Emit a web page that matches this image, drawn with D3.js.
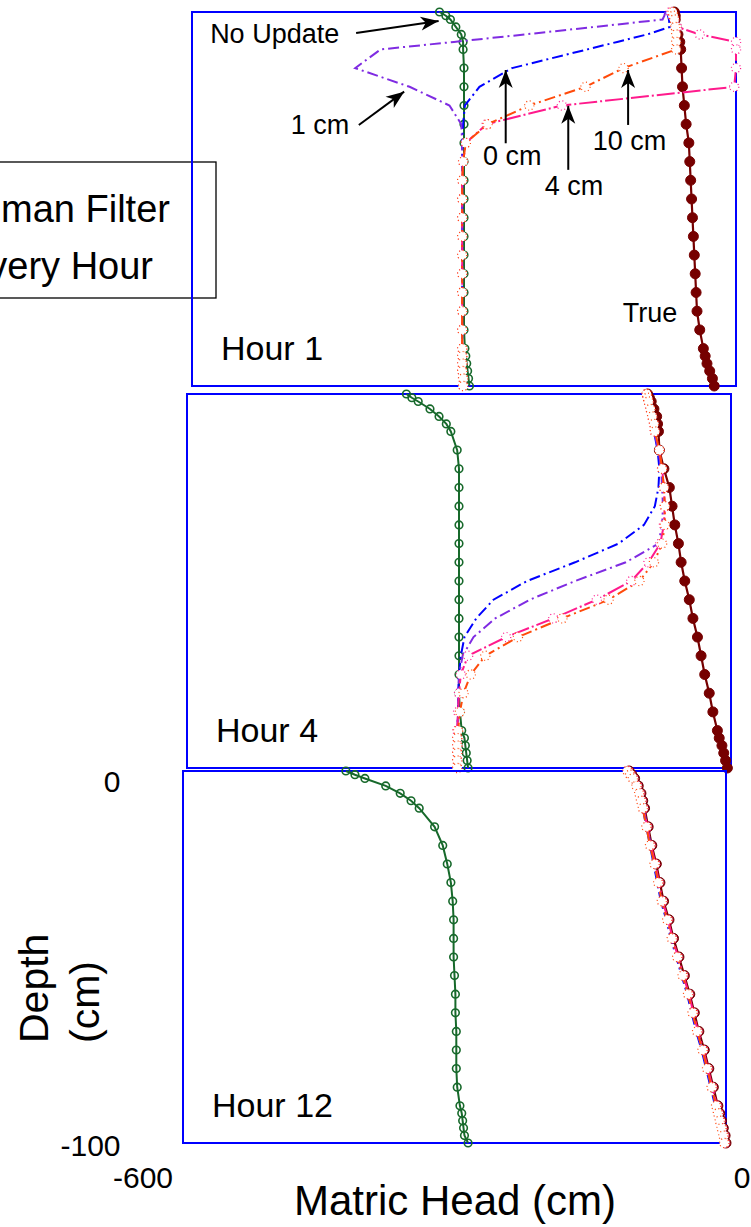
<!DOCTYPE html>
<html>
  <head>
    <meta charset="utf-8">
    <title>Matric head profiles - Kalman filter every hour</title>
    <script type="text/javascript" src="https://d3js.org/d3.v7.min.js"></script>
    <style type="text/css">
      body { margin: 0; background: #fff; }
      svg text { font-family: "Liberation Sans", Arial, sans-serif; fill: #000; }
    </style>
  </head>
  <body>
    <script type="text/javascript">
    // depth of the nodes (cm below surface)
    var depth = [0, 1, 2, 4, 6, 8, 10, 15, 20, 25, 30, 35, 40, 45, 50, 55, 60, 65, 70, 75, 80, 85, 90, 92, 94, 96, 98, 100];

    // Hour 1 - matric head (cm)
    var h1True     = [-68, -67, -67, -66, -64, -62, -61, -60, -59, -57, -55, -52, -51, -50, -49, -48, -47, -46, -45, -44, -43, -40, -36, -34, -32, -29, -26, -24];
    var h1NoUpdate = [-327, -320, -315, -309, -303, -301, -301, -300, -300, -300, -300, -300, -300, -300, -300, -300, -300, -300, -300, -300, -300, -300, -299, -298, -297, -296, -295, -294];
    var h1Cm0      = [-76, -75, -74, -73, -98, -131, -164, -247, -283, -299, -301, -302, -302, -302, -302, -302, -302, -302, -302, -302, -302, -302, -302, -302, -302, -302, -301, -301];
    var h1Cm1      = [-78, -79, -81, -156, -233, -311, -392, -420, -360, -316, -303, -302, -302, -302, -302, -302, -302, -302, -302, -302, -302, -302, -302, -302, -302, -302, -301, -301];
    var h1Cm4      = [-72, -70, -68, -65, -40, 0, 0, 0, -2, -192, -275, -298, -301, -302, -302, -302, -302, -302, -302, -302, -302, -302, -302, -302, -302, -302, -301, -301];
    var h1Cm10     = [-70, -69, -68, -67, -66, -66, -66, -124, -166, -228, -274, -298, -301, -302, -302, -302, -302, -302, -302, -302, -302, -302, -302, -302, -302, -302, -301, -301];

    // Hour 4
    var h4True     = [-92, -90, -88, -85, -82, -81, -80, -79, -74, -68, -65, -62, -58, -55, -51, -46, -42, -37, -33, -29, -24, -20, -15, -13, -10, -8, -6, -4];
    var h4NoUpdate = [-358, -352, -345, -332, -322, -314, -309, -302, -300, -300, -300, -300, -300, -300, -300, -300, -300, -300, -300, -300, -300, -299, -297, -294, -293, -292, -291, -290];
    var h4Cm0      = [-93, -92, -91, -89, -87, -86, -85, -81, -79, -80, -84, -96, -124, -172, -225, -262, -281, -294, -298, -300, -301, -301, -302, -302, -302, -302, -302, -302];
    var h4Cm1      = [-93, -92, -91, -89, -87, -86, -85, -80, -77, -76, -75, -76, -80, -116, -172, -222, -260, -284, -296, -300, -301, -301, -302, -302, -302, -302, -302, -302];
    var h4Cm4      = [-93, -92, -91, -89, -87, -85, -84, -79, -76, -74, -73, -74, -78, -91, -110, -148, -196, -248, -290, -298, -300, -301, -302, -302, -302, -302, -302, -302];
    var h4Cm10     = [-93, -92, -91, -89, -87, -85, -84, -79, -76, -74, -73, -73, -76, -85, -101, -135, -186, -235, -271, -287, -295, -299, -301, -302, -302, -302, -302, -302];

    // Hour 12
    var h12True     = [-107, -104, -101, -97, -94, -92, -90, -86, -82, -77, -73, -69, -63, -58, -52, -46, -40, -35, -30, -24, -19, -14, -9, -7, -5, -3, -1, 0];
    var h12NoUpdate = [-420, -410, -399, -376, -360, -348, -339, -322, -313, -308, -304, -302, -301, -301, -301, -300, -299, -299, -298, -298, -298, -297, -294, -292, -291, -290, -289, -285];
    var h12Cm0      = [-108, -105, -102, -98, -96, -94, -92, -88, -84, -80, -76, -72, -66, -61, -55, -49, -43, -38, -33, -27, -22, -17, -12, -10, -8, -6, -4, -3];
    var h12Cm1      = [-108, -105, -102, -98, -95, -93, -91, -87, -83, -79, -75, -71, -65, -60, -54, -48, -42, -37, -32, -26, -21, -16, -11, -9, -7, -5, -3, -2];
    var h12Cm4      = [-108, -105, -102, -98, -95, -93, -91, -87, -83, -78, -74, -70, -64, -59, -53, -47, -41, -36, -31, -25, -20, -15, -10, -8, -6, -4, -2, -1];
    var h12Cm10     = [-109, -106, -103, -99, -96, -94, -92, -88, -84, -79, -75, -71, -65, -60, -54, -48, -42, -37, -32, -26, -21, -16, -11, -9, -7, -5, -3, -2];

    var hourLabels = ["Hour 1", "Hour 4", "Hour 12"];
    var xTicks = [-600, 0];
    var yTicks = [0, -100];

    var widthSVG = 751;
    var heightSVG = 1227;

    var svg = d3.select("body")
                .append("svg")
                .attr("width", widthSVG)
                .attr("height", heightSVG);

    // arrow head used by the annotations
    svg.append("defs").append("marker")
       .attr("id", "head")
       .attr("markerUnits", "userSpaceOnUse")
       .attr("markerWidth", 20)
       .attr("markerHeight", 16)
       .attr("refX", 0)
       .attr("refY", 8)
       .attr("orient", "auto")
       .attr("viewBox", "-19 0 20 16")
       .append("path")
       .attr("d", "M0,8 L-18,1 L-13,8 L-18,15 Z")
       .attr("fill", "#000");

    // text box on the left, cut off by the page edge as in the figure
    svg.append("rect")
       .attr("x", -100).attr("y", 162)
       .attr("width", 316).attr("height", 136)
       .attr("fill", "none")
       .attr("stroke", "#000")
       .attr("stroke-width", 1.3);
    svg.append("text").attr("x", 58).attr("y", 222)
       .attr("text-anchor", "middle").style("font-size", "38px").text("Kalman Filter");
    svg.append("text").attr("x", 58).attr("y", 279)
       .attr("text-anchor", "middle").style("font-size", "38px").text("Every Hour");

    var styles = {
      truth:    {color: "#760000", width: 2.2, dash: null,       marker: "filled", r: 5},
      noUpdate: {color: "#17692b", width: 2,   dash: null,       marker: "open",   r: 3.8},
      cm0:      {color: "#0000ff", width: 2,   dash: "11,4,2,4", marker: null},
      cm1:      {color: "#7f2be2", width: 2,   dash: "11,4,2,4", marker: null},
      cm4:      {color: "#ff1a8c", width: 2,   dash: "18,3,2,3", marker: "white",  r: 4.6},
      cm10:     {color: "#ff4a0a", width: 2,   dash: "11,4,2,4", marker: "white",  r: 4.6}
    };

    // the three stacked panels (slightly shifted, as in the figure)
    var panels = [
      {x0: 192, x1: 736, y0: 12,  y1: 386,  label: hourLabels[0],
       data: {truth: h1True, noUpdate: h1NoUpdate, cm0: h1Cm0, cm1: h1Cm1, cm4: h1Cm4, cm10: h1Cm10}},
      {x0: 187, x1: 731, y0: 394, y1: 768,  label: hourLabels[1],
       data: {truth: h4True, noUpdate: h4NoUpdate, cm0: h4Cm0, cm1: h4Cm1, cm4: h4Cm4, cm10: h4Cm10}},
      {x0: 183, x1: 726, y0: 771, y1: 1143, label: hourLabels[2],
       data: {truth: h12True, noUpdate: h12NoUpdate, cm0: h12Cm0, cm1: h12Cm1, cm4: h12Cm4, cm10: h12Cm10}}
    ];

    panels.forEach(function(p) {
      var xScale = d3.scaleLinear().domain([-600, 0]).range([p.x0, p.x1]);
      var yScale = d3.scaleLinear().domain([0, -100]).range([p.y0, p.y1]);
      p.xScale = xScale;
      p.yScale = yScale;

      var g = svg.append("g");

      g.append("rect")
       .attr("x", xScale(-600)).attr("y", yScale(0))
       .attr("width", xScale(0) - xScale(-600))
       .attr("height", yScale(-100) - yScale(0))
       .attr("fill", "none")
       .attr("stroke", "#0000ff")
       .attr("stroke-width", 2);

      g.append("text")
       .attr("x", p.x0 + 29).attr("y", p.y1 - 26)
       .style("font-size", "34px")
       .text(p.label);

      function makeLine(vals) {
        return d3.line()
                 .x(function(d, i) { return xScale(vals[i]); })
                 .y(function(d) { return yScale(-d); })(depth);
      }

      function drawLine(key) {
        var s = styles[key];
        g.append("path")
         .attr("d", makeLine(p.data[key]))
         .attr("fill", "none")
         .attr("stroke", s.color)
         .attr("stroke-width", s.width)
         .attr("stroke-dasharray", s.dash);
      }

      function drawMarkers(key) {
        var s = styles[key];
        var vals = p.data[key];
        var dots = g.append("g").selectAll("circle")
                    .data(depth)
                    .enter()
                    .append("circle")
                    .attr("cx", function(d, i) { return xScale(vals[i]); })
                    .attr("cy", function(d) { return yScale(-d); })
                    .attr("r", s.r);
        if (s.marker == "filled") {
          dots.attr("fill", s.color).attr("stroke", s.color).attr("stroke-width", 1);
        } else if (s.marker == "open") {
          dots.attr("fill", "none").attr("stroke", s.color).attr("stroke-width", 1.6);
        } else {
          dots.attr("fill", "#fff").attr("stroke", s.color)
              .attr("stroke-width", 1.2).attr("stroke-dasharray", "1,2.6");
        }
      }

      drawLine("truth");
      drawMarkers("truth");
      drawLine("noUpdate");
      drawMarkers("noUpdate");
      drawLine("cm0");
      drawLine("cm1");
      drawLine("cm4");
      drawLine("cm10");
      drawMarkers("cm4");
      drawMarkers("cm10");
    });

    // annotations of the first panel, placed in its data units
    var p1 = panels[0];
    var notes = [
      {text: "No Update", h: -580,   z: 8.2},
      {text: "1 cm",      h: -491,   z: 32.6},
      {text: "0 cm",      h: -279,   z: 40.9},
      {text: "4 cm",      h: -211,   z: 48.9},
      {text: "10 cm",     h: -158,   z: 36.9},
      {text: "True",      h: -125,   z: 82.8}
    ];
    var arrows = [
      {h0: -419, z0: 5.6,  h1: -328, z1: 2.4},
      {h0: -416, z0: 30.2, h1: -366, z1: 21.3},
      {h0: -254, z0: 35.1, h1: -254, z1: 15.5},
      {h0: -185, z0: 42.2, h1: -185, z1: 25.1},
      {h0: -119, z0: 30.2, h1: -119, z1: 15.5}
    ];

    svg.selectAll("text.note")
       .data(notes)
       .enter()
       .append("text")
       .attr("class", "note")
       .attr("x", function(d) { return p1.xScale(d.h); })
       .attr("y", function(d) { return p1.yScale(-d.z); })
       .style("font-size", "27px")
       .text(function(d) { return d.text; });

    svg.selectAll("line.arrow")
       .data(arrows)
       .enter()
       .append("line")
       .attr("class", "arrow")
       .attr("x1", function(d) { return p1.xScale(d.h0); })
       .attr("y1", function(d) { return p1.yScale(-d.z0); })
       .attr("x2", function(d) { return p1.xScale(d.h1); })
       .attr("y2", function(d) { return p1.yScale(-d.z1); })
       .attr("stroke", "#000")
       .attr("stroke-width", 2)
       .attr("marker-end", "url(#head)");

    // tick labels belong to a wider, hidden axis frame
    var xLab = d3.scaleLinear().domain([-600, 0]).range([142.5, 741.5]);
    var yLab = d3.scaleLinear().domain([0, -100]).range([782, 1146]);
    var plain = function(d) { return String(d); };

    var xAxis = svg.append("g")
       .attr("transform", "translate(0,1146)")
       .call(d3.axisBottom(xLab).tickValues(xTicks).tickSize(0).tickPadding(21)
               .tickFormat(plain));
    var yAxis = svg.append("g")
       .attr("transform", "translate(142.5,0)")
       .call(d3.axisLeft(yLab).tickValues(yTicks).tickSize(0).tickPadding(22)
               .tickFormat(plain));
    [xAxis, yAxis].forEach(function(a) {
      a.select(".domain").remove();
      a.selectAll("text")
       .style("font-size", "30px")
       .style("font-family", "'Liberation Sans', Arial, sans-serif")
       .attr("fill", "#000");
    });

    // axis titles
    svg.append("text")
       .attr("x", 455).attr("y", 1215)
       .attr("text-anchor", "middle")
       .style("font-size", "42px")
       .text("Matric Head (cm)");
    svg.append("text")
       .attr("transform", "translate(48,1043) rotate(-90)")
       .style("font-size", "41px")
       .text("Depth");
    svg.append("text")
       .attr("transform", "translate(99,1043) rotate(-90)")
       .style("font-size", "41px")
       .text("(cm)");
    </script>
  </body>
</html>
